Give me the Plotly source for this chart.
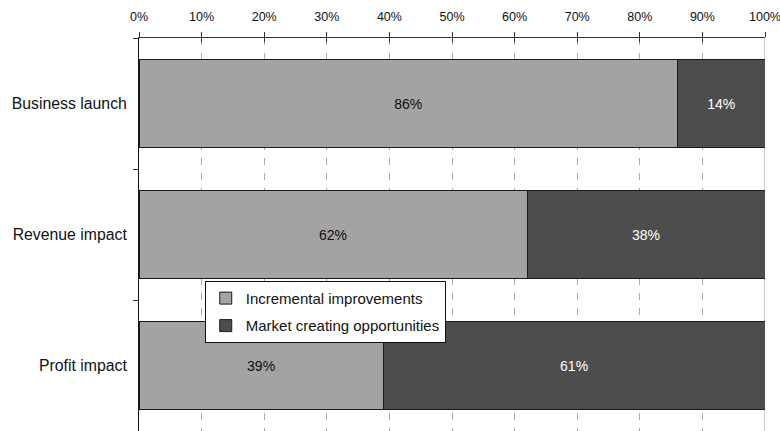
import plotly.graph_objects as go

# Share of initiatives by type, per success measure
categories = ["Business launch", "Revenue impact", "Profit impact"]
incremental = [86, 62, 39]
market_creating = [14, 38, 61]
series_names = ["Incremental improvements", "Market creating opportunities"]
tick_values = [0, 10, 20, 30, 40, 50, 60, 70, 80, 90, 100]
tick_labels = [f"{v}%" for v in tick_values]

FONT = "Liberation Sans, Arial, sans-serif"
LIGHT = "#a3a3a3"
DARK = "#4d4d4d"

fig = go.Figure()
fig.add_trace(go.Bar(
    y=categories, x=incremental, orientation="h", name=series_names[0],
    legendgroup="a",
    marker=dict(color=LIGHT, line=dict(color="#1a1a1a", width=1)),
    text=[f"{v}%" for v in incremental], textposition="inside",
    insidetextanchor="middle",
    textfont=dict(family=FONT, size=14, color="#111111"),
))
fig.add_trace(go.Bar(
    y=categories, x=market_creating, orientation="h", name=series_names[1],
    legendgroup="b",
    marker=dict(color=DARK, line=dict(color="#1a1a1a", width=1)),
    text=[f"{v}%" for v in market_creating], textposition="inside",
    insidetextanchor="middle",
    textfont=dict(family=FONT, size=14, color="#ffffff"),
))

# right-hand frame line at 100%
fig.add_shape(type="line", xref="x", yref="paper", x0=100, x1=100, y0=0, y1=1,
              line=dict(color="#9a9a9a", width=1), layer="below")

fig.update_layout(
    barmode="stack",
    bargap=0.33,
    width=780, height=431,
    margin=dict(l=139, r=15, t=38, b=0),
    paper_bgcolor="white", plot_bgcolor="white",
    font=dict(family=FONT, size=14, color="#111111"),
    uniformtext=dict(mode="show", minsize=10),
    xaxis=dict(
        side="top", range=[0, 100], tickvals=tick_values, ticktext=tick_labels,
        ticks="outside", ticklen=5, tickcolor="#333333", tickwidth=1,
        showline=True, linecolor="#333333", linewidth=1,
        showgrid=True, gridcolor="#a8a8a8", gridwidth=1, griddash="7px,8px",
        zeroline=False, tickfont=dict(family=FONT, size=12.5, color="#111111"),
        ticklabelstandoff=6, ticklabeloverflow="allow", fixedrange=True,
    ),
    xaxis2=dict(
        overlaying="x", side="top", range=[0, 100], tickvals=tick_values,
        ticks="inside", ticklen=4, tickcolor="#333333", tickwidth=1,
        showticklabels=False, showgrid=False, showline=False, zeroline=False,
        fixedrange=True,
    ),
    yaxis=dict(
        autorange="reversed", tickson="boundaries", ticks="outside", ticklen=5,
        tickcolor="#333333", showline=True, linecolor="#111111", linewidth=1,
        showgrid=False, tickfont=dict(family=FONT, size=15.8, color="#111111"),
        ticklabelstandoff=8, fixedrange=True,
    ),
    legend=dict(
        x=0.105, y=0.382, xanchor="left", yanchor="top",
        bgcolor="white", bordercolor="#111111", borderwidth=1,
        font=dict(family=FONT, size=15, color="#111111"),
        traceorder="grouped", tracegroupgap=5,
    ),
    showlegend=True,
)

# invisible trace to activate the inner tick marks on the top axis
fig.add_trace(go.Scatter(x=[0, 100], y=[categories[0], categories[0]], xaxis="x2",
                         mode="markers", marker=dict(opacity=0), showlegend=False,
                         hoverinfo="skip"))

fig.write_html("out.html")
